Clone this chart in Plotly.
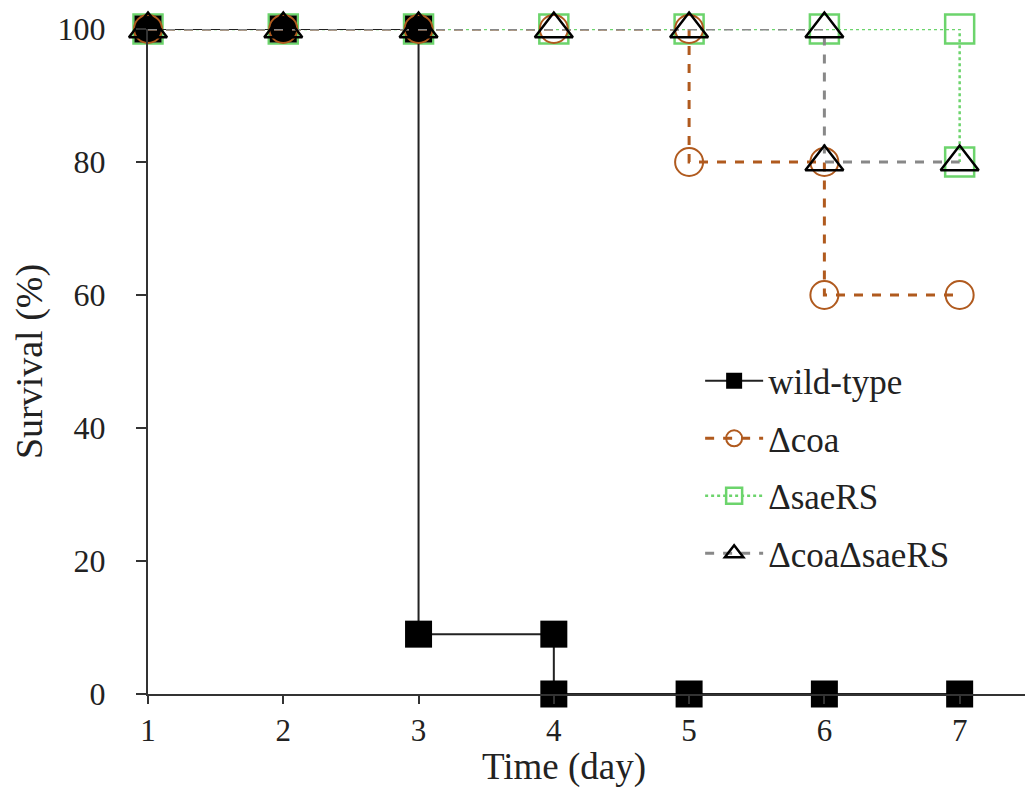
import plotly.graph_objects as go

# Kaplan-Meier step data (time in days, survival %)
wt_time = [1, 2, 3, 3, 4, 4, 5, 6, 7]
wt_surv = [100, 100, 100, 9, 9, 0, 0, 0, 0]

coa_time = [1, 2, 3, 4, 5, 5, 6, 6, 7]
coa_surv = [100, 100, 100, 100, 100, 80, 80, 60, 60]

sae_time = [1, 2, 3, 4, 5, 6, 7, 7]
sae_surv = [100, 100, 100, 100, 100, 100, 100, 80]

dbl_time = [1, 2, 3, 4, 5, 6, 6, 7]
dbl_surv = [100, 100, 100, 100, 100, 100, 80, 80]

x_ticks = [1, 2, 3, 4, 5, 6, 7]
y_ticks = [0, 20, 40, 60, 80, 100]

FONT = "Liberation Serif, Times New Roman, serif"
fig = go.Figure()

fig.add_trace(go.Scatter(
    x=sae_time, y=sae_surv, name="ΔsaeRS", mode="lines+markers",
    line=dict(color="#6CD46C", width=2.5, dash="dot"),
    marker=dict(symbol="square-open", size=29, color="#6CD46C", line=dict(width=2.5)),
    cliponaxis=False, legendrank=3, legendgroup="c"))

fig.add_trace(go.Scatter(
    x=wt_time, y=wt_surv, name="wild-type", mode="lines+markers",
    line=dict(color="#222222", width=2),
    marker=dict(symbol="square", size=27, color="#000000"),
    cliponaxis=False, legendrank=1, legendgroup="a"))

fig.add_trace(go.Scatter(
    x=coa_time, y=coa_surv, name="Δcoa", mode="lines+markers",
    line=dict(color="#B05A1E", width=3, dash="dash"),
    marker=dict(symbol="circle-open", size=28, color="#B05A1E", line=dict(width=2)),
    cliponaxis=False, legendrank=2, legendgroup="b"))

fig.add_trace(go.Scatter(
    x=dbl_time, y=dbl_surv, name="ΔcoaΔsaeRS", mode="lines+markers",
    line=dict(color="#888888", width=3, dash="dash"),
    marker=dict(symbol="triangle-up-open", size=33, color="#000000", line=dict(width=2.5)),
    cliponaxis=False, legendrank=4, legendgroup="d"))

fig.update_layout(
    width=1025, height=782,
    margin=dict(l=140, r=3, t=21, b=96),
    paper_bgcolor="white", plot_bgcolor="white",
    font=dict(family=FONT, size=32, color="#222222"),
    showlegend=True,
    legend=dict(x=0.626, y=0.515, xanchor="left", yanchor="top",
                bgcolor="rgba(0,0,0,0)", font=dict(size=35, family=FONT),
                tracegroupgap=9, itemwidth=58),
    annotations=[dict(text="Time (day)", x=0.4717, y=0, xref="paper", yref="paper",
                      xanchor="center", yanchor="middle", yshift=-73, showarrow=False,
                      font=dict(size=37, family=FONT, color="#222222"))],
)

fig.update_xaxes(
    range=[1, 7.52], tickvals=x_ticks, ticktext=[str(v) for v in x_ticks],
    showgrid=False, zeroline=False, showline=True, linecolor="#333333", linewidth=2,
    ticks="outside", ticklen=8, tickcolor="#333333", tickwidth=2,
    tickfont=dict(size=31, family=FONT),
)
fig.update_yaxes(
    range=[0, 100], tickvals=y_ticks, ticktext=[str(v) for v in y_ticks],
    showgrid=False, zeroline=False, showline=True, linecolor="#333333", linewidth=2,
    ticks="outside", ticklen=10, tickcolor="#333333", tickwidth=2,
    tickfont=dict(size=32, family=FONT), ticklabelstandoff=24,
    title=dict(text="Survival (%)", standoff=10, font=dict(size=38, family=FONT)),
)

fig.write_html("out.html")
